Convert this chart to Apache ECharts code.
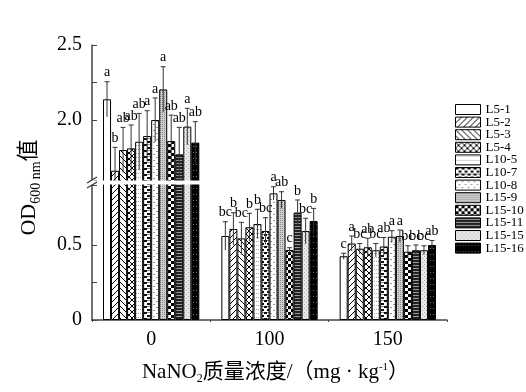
<!DOCTYPE html>
<html><head><meta charset="utf-8">
<script src="https://cdn.jsdelivr.net/npm/echarts@6/dist/echarts.min.js"></script>
<style>html,body{margin:0;padding:0;background:#fff}#c{width:526px;height:392px}</style>
</head><body><div id="c"></div>
<script>
const categories = ['0', '100', '150'];
const seriesNames = ['L5-1','L5-2','L5-3','L5-4','L10-5','L10-7','L10-8','L15-9','L15-10','L15-11','L15-15','L15-16'];
// OD600 means per NaNO2 level, one entry per strain
const means0   = [2.138, 1.662, 1.800, 1.811, 1.855, 1.893, 2.000, 2.204, 1.860, 1.771, 1.956, 1.849];
const means100 = [0.560, 0.607, 0.544, 0.618, 0.640, 0.593, 0.844, 0.800, 0.467, 0.716, 0.593, 0.660];
const means150 = [0.425, 0.510, 0.475, 0.485, 0.465, 0.490, 0.555, 0.560, 0.455, 0.465, 0.465, 0.500];
// standard deviations
const errs0   = [0.117, 0.156, 0.151, 0.156, 0.189, 0.169, 0.147, 0.151, 0.173, 0.180, 0.122, 0.140];
const errs100 = [0.095, 0.108, 0.107, 0.093, 0.098, 0.089, 0.044, 0.055, 0.015, 0.084, 0.085, 0.084];
const errs150 = [0.020, 0.050, 0.035, 0.060, 0.045, 0.060, 0.040, 0.040, 0.040, 0.035, 0.030, 0.030];
// significance letters
const letters0   = ['a','b','ab','ab','ab','a','a','a','ab','ab','a','ab'];
const letters100 = ['bc','b','bc','b','b','bc','a','ab','c','b','bc','b'];
const letters150 = ['c','a','bc','ab','bc','ab','a','a','bc','bc','bc','ab'];
const yTickLabels = ['0', '0.5', '2.0', '2.5'];

const meansByCat = [means0, means100, means150];
const errsByCat = [errs0, errs100, errs150];
const lettersByCat = [letters0, letters100, letters150];

function pat(size, bg, draw) {
  const c = document.createElement('canvas');
  c.width = size; c.height = size;
  const g = c.getContext('2d');
  g.fillStyle = bg; g.fillRect(0, 0, size, size);
  if (draw) draw(g, size);
  return { image: c, repeat: 'repeat' };
}
const patterns = [
  '#ffffff',
  pat(6, '#fff', (g, s) => { g.strokeStyle = '#000'; g.lineWidth = 1; g.beginPath(); g.moveTo(-1, s + 1); g.lineTo(s + 1, -1); g.moveTo(-1, 1); g.lineTo(1, -1); g.moveTo(s - 1, s + 1); g.lineTo(s + 1, s - 1); g.stroke(); }),
  pat(6, '#fff', (g, s) => { g.strokeStyle = '#000'; g.lineWidth = 1; g.beginPath(); g.moveTo(-1, -1); g.lineTo(s + 1, s + 1); g.moveTo(s - 1, -1); g.lineTo(s + 1, 1); g.moveTo(-1, s - 1); g.lineTo(1, s + 1); g.stroke(); }),
  pat(6, '#fff', (g, s) => { g.strokeStyle = '#000'; g.lineWidth = 1; g.beginPath(); g.moveTo(-1, s + 1); g.lineTo(s + 1, -1); g.moveTo(-1, -1); g.lineTo(s + 1, s + 1); g.stroke(); }),
  pat(4, '#fff', (g) => { g.fillStyle = '#aaa'; g.fillRect(0, 1, 1, 1); g.fillRect(2, 1, 1, 1); }),
  pat(6, '#fff', (g) => { g.fillStyle = '#111'; g.fillRect(0, 0, 3, 2); g.fillRect(3, 3, 3, 2); g.fillStyle = '#888'; g.fillRect(3, 0, 3, 1); }),
  pat(6, '#fff', (g) => { g.fillStyle = '#999'; g.fillRect(0, 1, 2, 1); g.fillRect(3, 4, 2, 1); }),
  pat(2, '#d0d0d0', (g) => { g.fillStyle = '#888'; g.fillRect(0, 0, 1, 1); }),
  pat(6, '#fff', (g) => { g.fillStyle = '#000'; g.fillRect(0, 0, 3, 3); g.fillRect(3, 3, 3, 3); }),
  pat(3, '#222', (g) => { g.fillStyle = '#999'; g.fillRect(0, 1, 3, 1); }),
  pat(4, '#e8e8e8', (g) => { g.fillStyle = '#aaa'; g.fillRect(0, 0, 1, 1); g.fillRect(2, 2, 1, 1); }),
  pat(6, '#000', (g) => { g.fillStyle = '#777'; g.fillRect(1, 2, 1, 1); g.fillRect(4, 2, 1, 1); })
];

const GAP = 0.186;
const serif = '"Liberation Serif", "Noto Sans CJK SC", serif';

const barSeries = seriesNames.map((name, i) => ({
  name, type: 'bar', barGap: 0, barCategoryGap: (GAP * 100) + '%',
  data: meansByCat.map(arr => arr[i]),
  itemStyle: { color: patterns[i], borderColor: '#000', borderWidth: 1 },
  z: 2
}));

const errData = [];
const errLetters = [];
for (let c = 0; c < categories.length; c++) {
  for (let i = 0; i < seriesNames.length; i++) {
    errData.push([c, i, meansByCat[c][i], errsByCat[c][i]]);
    errLetters.push(lettersByCat[c][i]);
  }
}

const chart = echarts.init(document.getElementById('c'), null, { renderer: 'canvas' });
chart.setOption({
  animation: false,
  textStyle: { fontFamily: serif },
  grid: { left: 92, top: 45, right: 79, bottom: 72, containLabel: false },
  legend: {
    data: seriesNames, orient: 'vertical', left: 455, top: 103, padding: 0,
    itemWidth: 25, itemHeight: 10, itemGap: -0.4, icon: 'rect',
    textStyle: { fontSize: 13, fontFamily: serif, color: '#000' },
    itemStyle: { borderColor: '#000', borderWidth: 1 }
  },
  xAxis: {
    type: 'category', data: categories,
    axisLine: { lineStyle: { color: '#444', width: 1.5 } },
    axisTick: { show: true, length: 2, lineStyle: { color: '#444' } },
    axisLabel: { fontSize: 20, color: '#000', margin: 10, fontFamily: serif },
    name: '{a|NaNO}{s|2}{a|质量浓度/（mg · kg}{p|-1}{a|）}',
    nameLocation: 'middle', nameGap: 42,
    nameTextStyle: {
      padding: [0, 0, 0, 12],
      rich: {
        a: { fontSize: 21, fontFamily: serif, color: '#000' },
        s: { fontSize: 12, fontFamily: serif, color: '#000', verticalAlign: 'bottom', padding: [0, 0, -2, 0] },
        p: { fontSize: 11, fontFamily: serif, color: '#000', verticalAlign: 'top' }
      }
    }
  },
  yAxis: {
    type: 'value', min: 0, max: 2.5, interval: 0.25,
    breaks: [{ start: 0.9, end: 1.6, gap: '1.8%' }],
    breakArea: { show: false, expandOnClick: false },
    splitLine: { show: false },
    axisLine: { show: true, lineStyle: { color: '#444', width: 1.5 } },
    axisTick: { show: true, inside: true, length: 5, lineStyle: { color: '#444' } },
    axisLabel: {
      fontSize: 20, color: '#000', margin: 10, fontFamily: serif,
      formatter: v => {
        const s = Math.abs(v) < 1e-9 ? '0' : (+v).toFixed(1);
        return yTickLabels.indexOf(s) >= 0 && Math.abs(v * 2 - Math.round(v * 2)) < 1e-6 ? s : '';
      }
    },
    name: '{a|OD}{b|600 nm}{a|值}',
    nameLocation: 'middle', nameGap: 52, nameRotate: 90,
    nameTextStyle: {
      padding: [0, 10, 0, 0],
      rich: {
        a: { fontSize: 22, fontFamily: serif, color: '#000' },
        b: { fontSize: 14, fontFamily: serif, color: '#000', verticalAlign: 'bottom', padding: [0, 0, -3, 0] }
      }
    }
  },
  series: barSeries.concat([{
    type: 'custom', name: 'err', z: 5, clip: false, silent: true,
    encode: { x: 0, y: 2 },
    data: errData,
    renderItem: (params, api) => {
      const cat = api.value(0), si = api.value(1), v = api.value(2), e = api.value(3);
      const center = api.coord([cat, v]);
      const band = api.size([1, 0])[0];
      const total = band * (1 - GAP);
      const bw = total / seriesNames.length;
      const x = center[0] - total / 2 + bw * (si + 0.5);
      const yTop = api.coord([cat, v + e])[1];
      const yBot = api.coord([cat, Math.max(0, v - e)])[1];
      return {
        type: 'group', children: [
          { type: 'line', shape: { x1: x, y1: yTop, x2: x, y2: yBot }, style: { stroke: '#333', lineWidth: 1 } },
          { type: 'line', shape: { x1: x - 2.5, y1: yTop, x2: x + 2.5, y2: yTop }, style: { stroke: '#333', lineWidth: 1 } },
          { type: 'text', style: { text: errLetters[params.dataIndex], x: x, y: yTop - 2, textAlign: 'center', textVerticalAlign: 'bottom', font: '14px "Liberation Serif"', fill: '#000' } }
        ]
      };
    }
  }])
});

// axis break band and "//" marks
const yA = chart.convertToPixel({ yAxisIndex: 0 }, 0.9);
const yB = chart.convertToPixel({ yAxisIndex: 0 }, 1.6);
const ax = 92;
chart.setOption({
  graphic: [
    { type: 'rect', shape: { x: ax + 1, y: yB + 0.5, width: 354, height: Math.max(1, yA - yB - 1) }, style: { fill: '#fff' }, z: 3 },
    { type: 'rect', shape: { x: ax - 2, y: yB, width: 4, height: Math.max(1, yA - yB) }, style: { fill: '#fff' }, z: 100 },
    { type: 'line', shape: { x1: ax - 5, y1: yA + 3, x2: ax + 5, y2: yA - 3 }, style: { stroke: '#333', lineWidth: 1.2 }, z: 101 },
    { type: 'line', shape: { x1: ax - 5, y1: yB + 3, x2: ax + 5, y2: yB - 3 }, style: { stroke: '#333', lineWidth: 1.2 }, z: 101 }
  ]
});
</script></body></html>
